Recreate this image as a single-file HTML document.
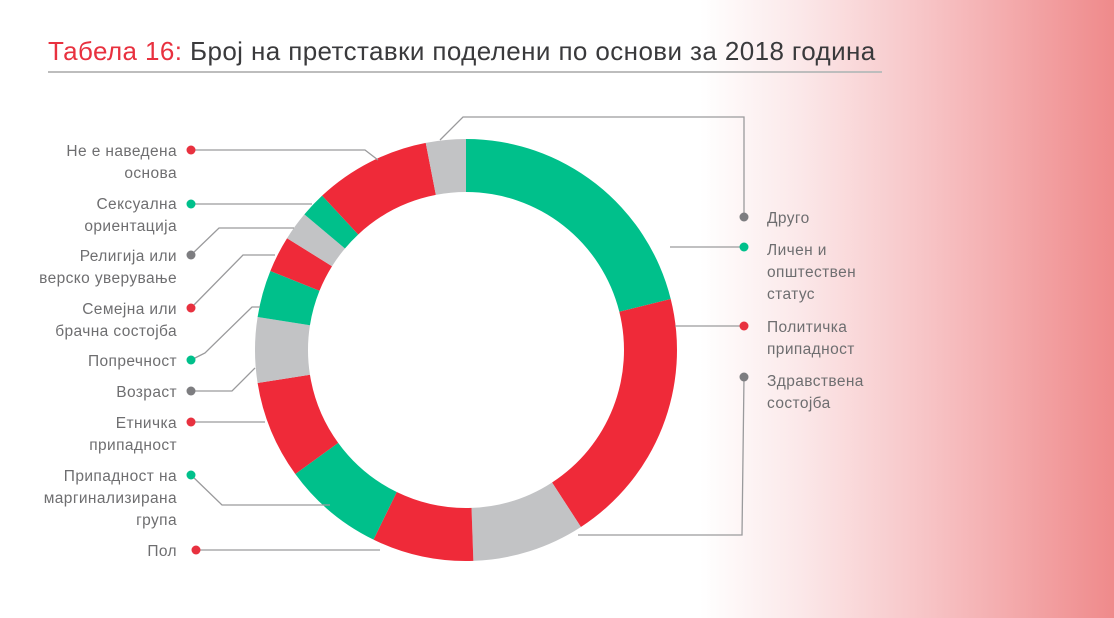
<!DOCTYPE html>
<html><head><meta charset="utf-8"><style>
html,body{margin:0;padding:0}
body{width:1114px;height:618px;overflow:hidden;background:linear-gradient(to right,#fff 0px,#fff 700px,#fbe8e9 800px,#f7c3c5 930px,#ef8a8b 1114px);font-family:"Liberation Sans","DejaVu Sans",sans-serif}
svg{position:absolute;left:0;top:0}
.l{font-size:15.5px;fill:#6e6e70;letter-spacing:0.4px}
</style></head><body>
<svg width="1114" height="618" id="s">
<text x="48" y="60" font-size="26" fill="#3a3a3c" letter-spacing="0.4"><tspan fill="#e8313f">Табела 16:</tspan> Број на претставки поделени по основи за 2018 година</text>
<line x1="48" y1="72" x2="882" y2="72" stroke="#bdbdbd" stroke-width="2"/>
<g id="ring"></g>
<g fill="none" stroke="#9a9a9c" stroke-width="1.3">
<polyline points="191,150 365,150 378,160"/>
<polyline points="440,140 463,117 744,117 744,217"/>
<polyline points="670,247 744,247"/>
<polyline points="675,326 744,326"/>
<polyline points="744,377 742,535 578,535"/>
<polyline points="191,204 312,204"/>
<polyline points="191,255 219,228 294,228"/>
<polyline points="191,308 243,255 275,255"/>
<polyline points="191,360 205,353 252,307 260,307"/>
<polyline points="191,391 232,391 255,368"/>
<polyline points="191,422 265,422"/>
<polyline points="191,475 222,505 330,505"/>
<polyline points="196,550 380,550"/>
</g>
<g>
<circle cx="191" cy="150" r="4.5" fill="#e8313f"/>
<circle cx="191" cy="204" r="4.5" fill="#00c08b"/>
<circle cx="191" cy="255" r="4.5" fill="#7d7d80"/>
<circle cx="191" cy="308" r="4.5" fill="#e8313f"/>
<circle cx="191" cy="360" r="4.5" fill="#00c08b"/>
<circle cx="191" cy="391" r="4.5" fill="#7d7d80"/>
<circle cx="191" cy="422" r="4.5" fill="#e8313f"/>
<circle cx="191" cy="475" r="4.5" fill="#00c08b"/>
<circle cx="196" cy="550" r="4.5" fill="#e8313f"/>
<circle cx="744" cy="217" r="4.5" fill="#7d7d80"/>
<circle cx="744" cy="247" r="4.5" fill="#00c08b"/>
<circle cx="744" cy="326" r="4.5" fill="#e8313f"/>
<circle cx="744" cy="377" r="4.5" fill="#7d7d80"/>
</g>
<g class="l" text-anchor="end">
<text x="177" y="156">Не е наведена</text><text x="177" y="178">основа</text>
<text x="177" y="209">Сексуална</text><text x="177" y="231">ориентација</text>
<text x="177" y="261">Религија или</text><text x="177" y="283">верско уверување</text>
<text x="177" y="314">Семејна или</text><text x="177" y="336">брачна состојба</text>
<text x="177" y="366">Попречност</text>
<text x="177" y="397">Возраст</text>
<text x="177" y="428">Етничка</text><text x="177" y="450">припадност</text>
<text x="177" y="481">Припадност на</text><text x="177" y="503">маргинализирана</text><text x="177" y="525">група</text>
<text x="177" y="556">Пол</text>
</g>
<g class="l">
<text x="767" y="223">Друго</text>
<text x="767" y="255">Личен и</text><text x="767" y="277">општествен</text><text x="767" y="299">статус</text>
<text x="767" y="332">Политичка</text><text x="767" y="354">припадност</text>
<text x="767" y="386">Здравствена</text><text x="767" y="408">состојба</text>
</g>
</svg>
<script>
var G='#00c08b',R='#ef2a39',Y='#c2c3c5';
var segs=[[0,76,G],[76,147,R],[147,178,Y],[178,206,R],[206,234,G],[234,261,R],[261,279,Y],[279,292,G],[292,302,R],[302,310,Y],[310,317,G],[317,349,R],[349,360,Y]];
var cx=466,cy=350,ro=211,ri=158,h='';
function p(a,r){a=a*Math.PI/180;return [(cx+r*Math.sin(a)).toFixed(2),(cy-r*Math.cos(a)).toFixed(2)];}
segs.forEach(function(s){var a=s[0],b=s[1],l=(b-a)>180?1:0;
var p1=p(a,ro),p2=p(b,ro),p3=p(b,ri),p4=p(a,ri);
h+='<path fill="'+s[2]+'" d="M'+p1+' A'+ro+','+ro+' 0 '+l+' 1 '+p2+' L'+p3+' A'+ri+','+ri+' 0 '+l+' 0 '+p4+' Z"/>';});
document.getElementById('ring').innerHTML=h;
</script>
</body></html>
